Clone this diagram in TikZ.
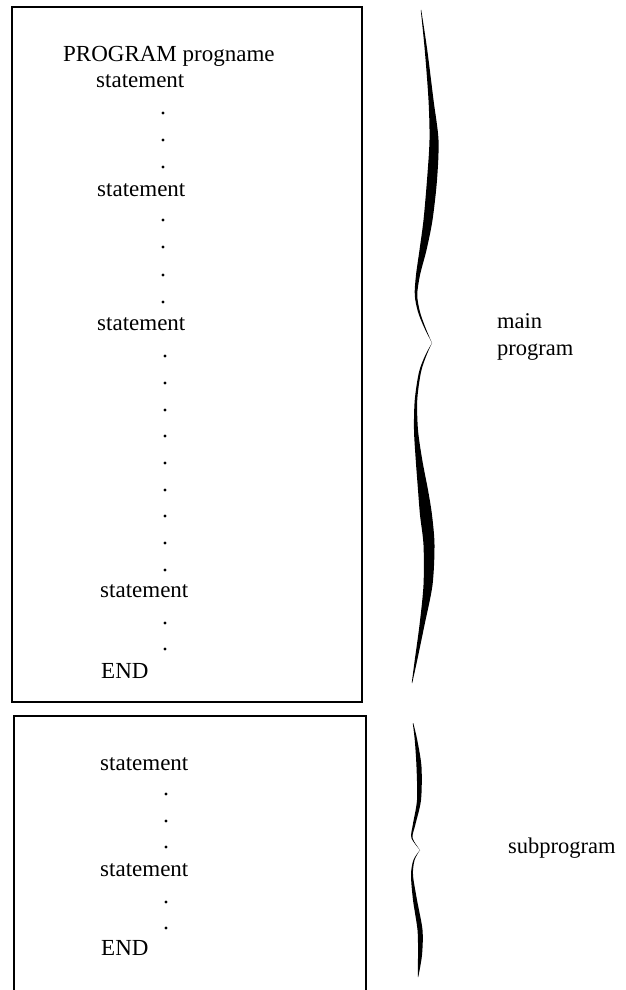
\documentclass[tikz,border=0pt]{standalone}
\usepackage{fontspec}
\setmainfont{Liberation Serif}
\usepackage{tikz}
\usetikzlibrary{positioning}

\begin{document}
\begin{tikzpicture}[x=1pt,y=-1pt,
    code/.style={anchor=base west,inner sep=0pt,font=\fontsize{23}{27}\selectfont},
    side/.style={anchor=base west,inner sep=0pt,font=\fontsize{22.5}{27}\selectfont},
    frame/.style={draw,line width=2.6pt},
    brace/.style={fill=black}]

\useasboundingbox (0,0) rectangle (626,990);

% Main program box
\draw[frame] (12,7) rectangle (362,702);
\node[code] (prog) at (63,62) {PROGRAM progname};
\node[code] (st1) at (96,88) {statement};
\node[code] (st2) at (97,196) {statement};
\node[code] (st3) at (97,330) {statement};
\node[code] (st4) at (100,597) {statement};
\node[code] (end1) at (101,678) {END};
\foreach \y in {113,140,167,220,247,275,302}
    \fill (163,\y) circle (1.6);
\foreach \y in {356,383,410,436,463,490,516,543,570,623,649}
    \fill (165,\y) circle (1.6);

% Subprogram box
\draw[frame] (14,716) rectangle (366,996);
\node[code] (st5) at (100,770) {statement};
\node[code] (st6) at (100,876) {statement};
\node[code] (end2) at (101,955) {END};
\foreach \y in {794,821,847,902,928}
    \fill (166,\y) circle (1.6);

% Braces
\fill[brace] plot[smooth] coordinates {(420.75,10) (424.75,50) (428.5,100) (429.5,140) (427,180) (423.5,220) (419.5,250) (416,275) (414.75,295) (418,312) (424.4,328) (432,343)}
    -- plot[smooth] coordinates {(432,343) (425.6,328) (420,312) (417.25,295) (420,275) (426.5,250) (432.5,220) (437,180) (438.5,140) (433.5,100) (427.25,50) (421.25,10)} -- cycle;
\fill[brace] plot[smooth] coordinates {(432,343) (425.4,355) (419,372) (414.75,400) (414,430) (415.75,460) (418,490) (420,515) (423.5,545) (423.5,585) (419.5,625) (414.75,660) (411.75,683)}
    -- plot[smooth] coordinates {(412.25,683) (417.25,660) (424.5,625) (432.5,585) (434.5,545) (432,515) (428,490) (422.25,460) (418,430) (417.25,400) (421,372) (426.6,355) (432,343)} -- cycle;
\fill[brace] plot[smooth] coordinates {(412.75,723) (414.75,740) (416.5,767) (417,800) (412.75,825) (411.4,838) (420,850)}
    -- plot[smooth] coordinates {(420,850) (412.6,838) (415.25,825) (421,800) (421.5,767) (417.25,740) (413.25,723)} -- cycle;
\fill[brace] plot[smooth] coordinates {(420,850) (413.4,860) (411,875) (413,900) (417.5,930) (418,955) (417.75,977)}
    -- plot[smooth] coordinates {(418.25,977) (422,955) (422.5,930) (417,900) (413,875) (414.6,860) (420,850)} -- cycle;

% Labels
\node[side] (main) at (497,328) {main};
\node[side] (mainb) at (497,355) {program};
\node[side] (sub) at (508,853) {subprogram};

\end{tikzpicture}
\end{document}
